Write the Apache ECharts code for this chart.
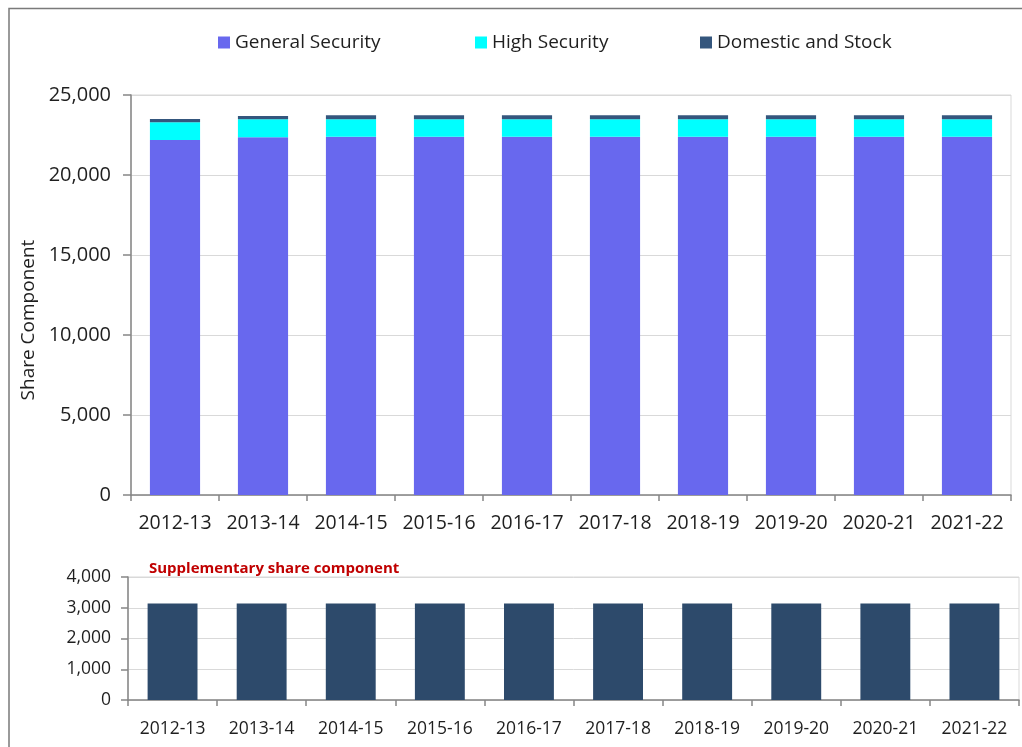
<!DOCTYPE html>
<html>
<head>
<meta charset="utf-8">
<script src="https://cdn.jsdelivr.net/npm/echarts@6/dist/echarts.min.js"></script>
<style>
html,body{margin:0;padding:0;background:#fff;}
#c{width:1022px;height:747px;}
</style>
</head>
<body>
<div id="c"></div>
<script>
const categories = ['2012-13','2013-14','2014-15','2015-16','2016-17','2017-18','2018-19','2019-20','2020-21','2021-22'];
const generalSecurity = [22190, 22360, 22390, 22390, 22390, 22390, 22390, 22390, 22390, 22390];
const highSecurity = [1100, 1125, 1100, 1100, 1100, 1100, 1100, 1100, 1100, 1100];
const domesticStock = [210, 210, 250, 250, 250, 250, 250, 250, 250, 250];
const supplementary = [3140, 3140, 3140, 3140, 3140, 3140, 3140, 3140, 3140, 3140];
const mainTicks = {min: 0, max: 25000, interval: 5000};
const suppTicks = {min: 0, max: 4000, interval: 1000};

const FONT = 'Open Sans';
const TXT = '#1f1f1f';
const AX = '#868686';
const GRIDC = '#d9d9d9';
const fmt = v => Number(v).toLocaleString('en-US');

const chart = echarts.init(document.getElementById('c'), null, {renderer: 'canvas'});
const legendBase = {
  top: 28, itemWidth: 12, itemHeight: 12, itemGap: 0,
  textStyle: {fontFamily: FONT, fontSize: 19, color: TXT},
  icon: 'rect', selectedMode: false
};
chart.setOption({
  animation: false,
  backgroundColor: '#fff',
  textStyle: {fontFamily: FONT},
  title: {
    text: 'Supplementary share component',
    left: 144, top: 556,
    textStyle: {fontFamily: FONT, fontSize: 15, fontWeight: 'bold', color: '#C00000'}
  },
  graphic: [{
    type: 'rect', silent: true,
    shape: {x: 9, y: 8.5, width: 1100, height: 800},
    style: {fill: 'none', stroke: '#7a7a7a', lineWidth: 1.5}
  }],
  legend: [
    Object.assign({}, legendBase, {left: 213, data: ['General Security']}),
    Object.assign({}, legendBase, {left: 470, data: ['High Security']}),
    Object.assign({}, legendBase, {left: 695, data: ['Domestic and Stock']})
  ],
  grid: [
    {left: 131, right: 11, top: 95, bottom: 252, show: true, borderColor: GRIDC, borderWidth: 1, backgroundColor: 'transparent'},
    {left: 128, right: 3, top: 577, bottom: 47, show: true, borderColor: GRIDC, borderWidth: 1, backgroundColor: 'transparent'}
  ],
  xAxis: [
    {
      type: 'category', gridIndex: 0, data: categories,
      axisLine: {lineStyle: {color: AX, width: 1.5}},
      axisTick: {show: true, length: 6, lineStyle: {color: AX, width: 1.5}},
      axisLabel: {fontFamily: FONT, fontSize: 19.5, color: TXT, margin: 18, interval: 0}
    },
    {
      type: 'category', gridIndex: 1, data: categories,
      axisLine: {lineStyle: {color: AX, width: 1.5}},
      axisTick: {show: true, length: 6, lineStyle: {color: AX, width: 1.5}},
      axisLabel: {fontFamily: FONT, fontSize: 17.5, color: TXT, margin: 20, interval: 0}
    }
  ],
  yAxis: [
    {
      type: 'value', gridIndex: 0, min: mainTicks.min, max: mainTicks.max, interval: mainTicks.interval,
      name: 'Share Component', nameLocation: 'middle', nameGap: 92, nameRotate: 90,
      nameTextStyle: {fontFamily: FONT, fontSize: 19, color: TXT, padding: [0, 50, 0, 0]},
      axisLine: {show: true, lineStyle: {color: AX, width: 1.5}},
      axisTick: {show: true, length: 8, lineStyle: {color: AX, width: 1.5}},
      axisLabel: {fontFamily: FONT, fontSize: 20, color: TXT, margin: 20, formatter: fmt},
      splitLine: {lineStyle: {color: GRIDC, width: 1}}
    },
    {
      type: 'value', gridIndex: 1, min: suppTicks.min, max: suppTicks.max, interval: suppTicks.interval,
      axisLine: {show: true, lineStyle: {color: AX, width: 1.5}},
      axisTick: {show: true, length: 7, lineStyle: {color: AX, width: 1.5}},
      axisLabel: {fontFamily: FONT, fontSize: 17.5, color: TXT, margin: 17, formatter: fmt},
      splitLine: {lineStyle: {color: GRIDC, width: 1}}
    }
  ],
  series: [
    {name: 'General Security', type: 'bar', stack: 'main', xAxisIndex: 0, yAxisIndex: 0, data: generalSecurity, barWidth: '57%', itemStyle: {color: '#6868EE'}},
    {name: 'High Security', type: 'bar', stack: 'main', xAxisIndex: 0, yAxisIndex: 0, data: highSecurity, barWidth: '57%', itemStyle: {color: '#00FFFF'}},
    {name: 'Domestic and Stock', type: 'bar', stack: 'main', xAxisIndex: 0, yAxisIndex: 0, data: domesticStock, barWidth: '57%', itemStyle: {color: '#34567D'}},
    {name: 'Supplementary', type: 'bar', xAxisIndex: 1, yAxisIndex: 1, data: supplementary, barWidth: '56%', itemStyle: {color: '#2D4A6B'}}
  ]
});
</script>
</body>
</html>
